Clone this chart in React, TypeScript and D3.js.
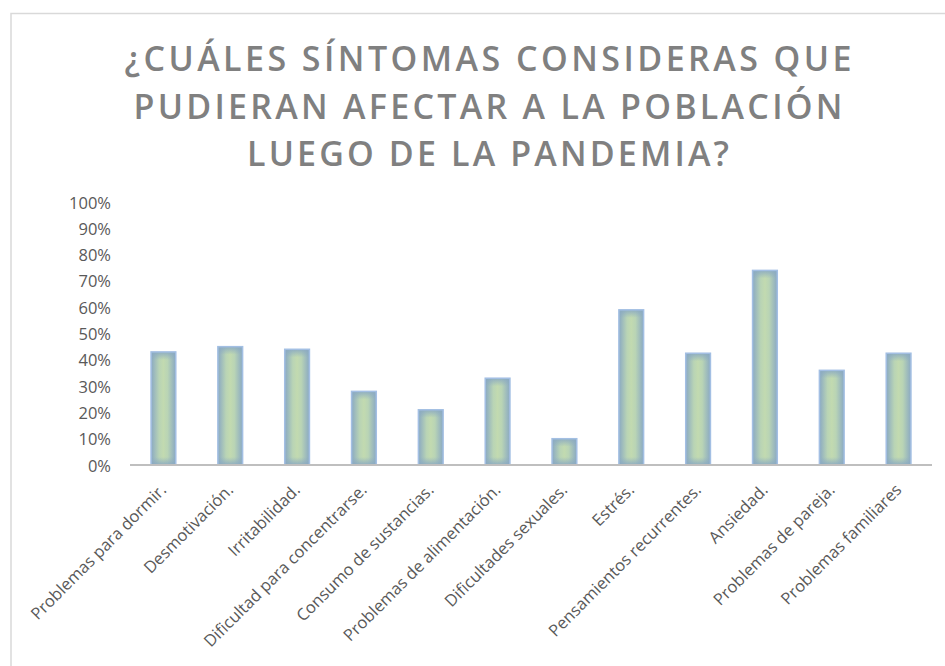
import * as d3 from "d3";
import React from "react";

const titleLines = [
  "¿CUÁLES SÍNTOMAS CONSIDERAS QUE",
  "PUDIERAN AFECTAR A LA POBLACIÓN",
  "LUEGO DE LA PANDEMIA?",
];
const titleWidths = [727, 709, 482];

const categories = [
  "Problemas para dormir.",
  "Desmotivación.",
  "Irritabilidad.",
  "Dificultad para concentrarse.",
  "Consumo de sustancias.",
  "Problemas de alimentación.",
  "Dificultades sexuales.",
  "Estrés.",
  "Pensamientos recurrentes.",
  "Ansiedad.",
  "Problemas de pareja.",
  "Problemas familiares",
];
const values = [0.43, 0.45, 0.44, 0.28, 0.21, 0.33, 0.1, 0.59, 0.425, 0.74, 0.36, 0.425];
const yTicks = [0, 0.1, 0.2, 0.3, 0.4, 0.5, 0.6, 0.7, 0.8, 0.9, 1];

const edge = "#8aa9c2";
const center = "#c2dab0";

export default function App() {
  const width = 945;
  const height = 666;
  const plot = { left: 130, right: 932, top: 202, bottom: 465 };

  // escalas
  const x = d3
    .scaleBand<string>()
    .domain(categories)
    .range([plot.left, plot.right])
    .paddingInner(0.63)
    .paddingOuter(0.315);
  const y = d3.scaleLinear().domain([0, 1]).range([plot.bottom, plot.top]);
  const fmt = d3.format(".0%");
  const font = "'Open Sans', 'DejaVu Sans', sans-serif";
  const fade = 8;

  return (
    <svg
      width={width}
      height={height}
      style={{ position: "absolute", left: 0, top: 0, background: "#fff" }}
    >
      <defs>
        <linearGradient id="gH" x1="0" x2="1" y1="0" y2="0">
          <stop offset="0" stopColor={edge} />
          <stop offset="0.33" stopColor="#b9d4b5" />
          <stop offset="0.5" stopColor={center} />
          <stop offset="0.67" stopColor="#b9d4b5" />
          <stop offset="1" stopColor={edge} />
        </linearGradient>
        <linearGradient id="gTop" x1="0" x2="0" y1="0" y2="1">
          <stop offset="0" stopColor={edge} stopOpacity={0.9} />
          <stop offset="1" stopColor={edge} stopOpacity={0} />
        </linearGradient>
        <linearGradient id="gBot" x1="0" x2="0" y1="1" y2="0">
          <stop offset="0" stopColor={edge} stopOpacity={0.9} />
          <stop offset="1" stopColor={edge} stopOpacity={0} />
        </linearGradient>
      </defs>

      {/* borde del gráfico */}
      <rect x={11} y={13.5} width={1200} height={1200} fill="none" stroke="#d9d9d9" strokeWidth={1.5} />

      {/* título */}
      <g fill="#808080" fontFamily={font} fontSize={34} fontWeight={600} textAnchor="middle">
        {titleLines.map((t, i) => (
          <text
            key={t}
            x={488}
            y={71 + i * 47.5}
            textLength={titleWidths[i]}
            lengthAdjust="spacing"
          >
            {t}
          </text>
        ))}
      </g>

      {/* eje Y */}
      <g fill="#595959" fontFamily={font} fontSize={16.5} textAnchor="end">
        {yTicks.map((t) => (
          <text key={t} x={111} y={y(t)} dominantBaseline="central">
            {fmt(t)}
          </text>
        ))}
      </g>

      {/* barras */}
      {categories.map((c, i) => {
        const bx = x(c) || 0;
        const by = y(values[i]);
        const bh = y(0) - by;
        const bw = x.bandwidth();
        const f = Math.min(fade, bh / 2);
        return (
          <g key={c}>
            <rect x={bx} y={by} width={bw} height={bh} fill="url(#gH)" />
            <rect x={bx} y={by} width={bw} height={f} fill="url(#gTop)" />
            <rect x={bx} y={by + bh - f} width={bw} height={f} fill="url(#gBot)" />
            <rect
              x={bx}
              y={by}
              width={bw}
              height={bh}
              fill="none"
              stroke="#a3bfe3"
              strokeWidth={1.5}
            />
          </g>
        );
      })}

      {/* eje X */}
      <line x1={plot.left} x2={plot.right} y1={y(0)} y2={y(0)} stroke="#bfbfbf" strokeWidth={2} />
      <g fill="#595959" fontFamily={font} fontSize={16.5} textAnchor="end">
        {categories.map((c) => (
          <text
            key={c}
            transform={`translate(${(x(c) || 0) + x.bandwidth() / 2 + 4},${plot.bottom + 26}) rotate(-45)`}
          >
            {c}
          </text>
        ))}
      </g>
    </svg>
  );
}
